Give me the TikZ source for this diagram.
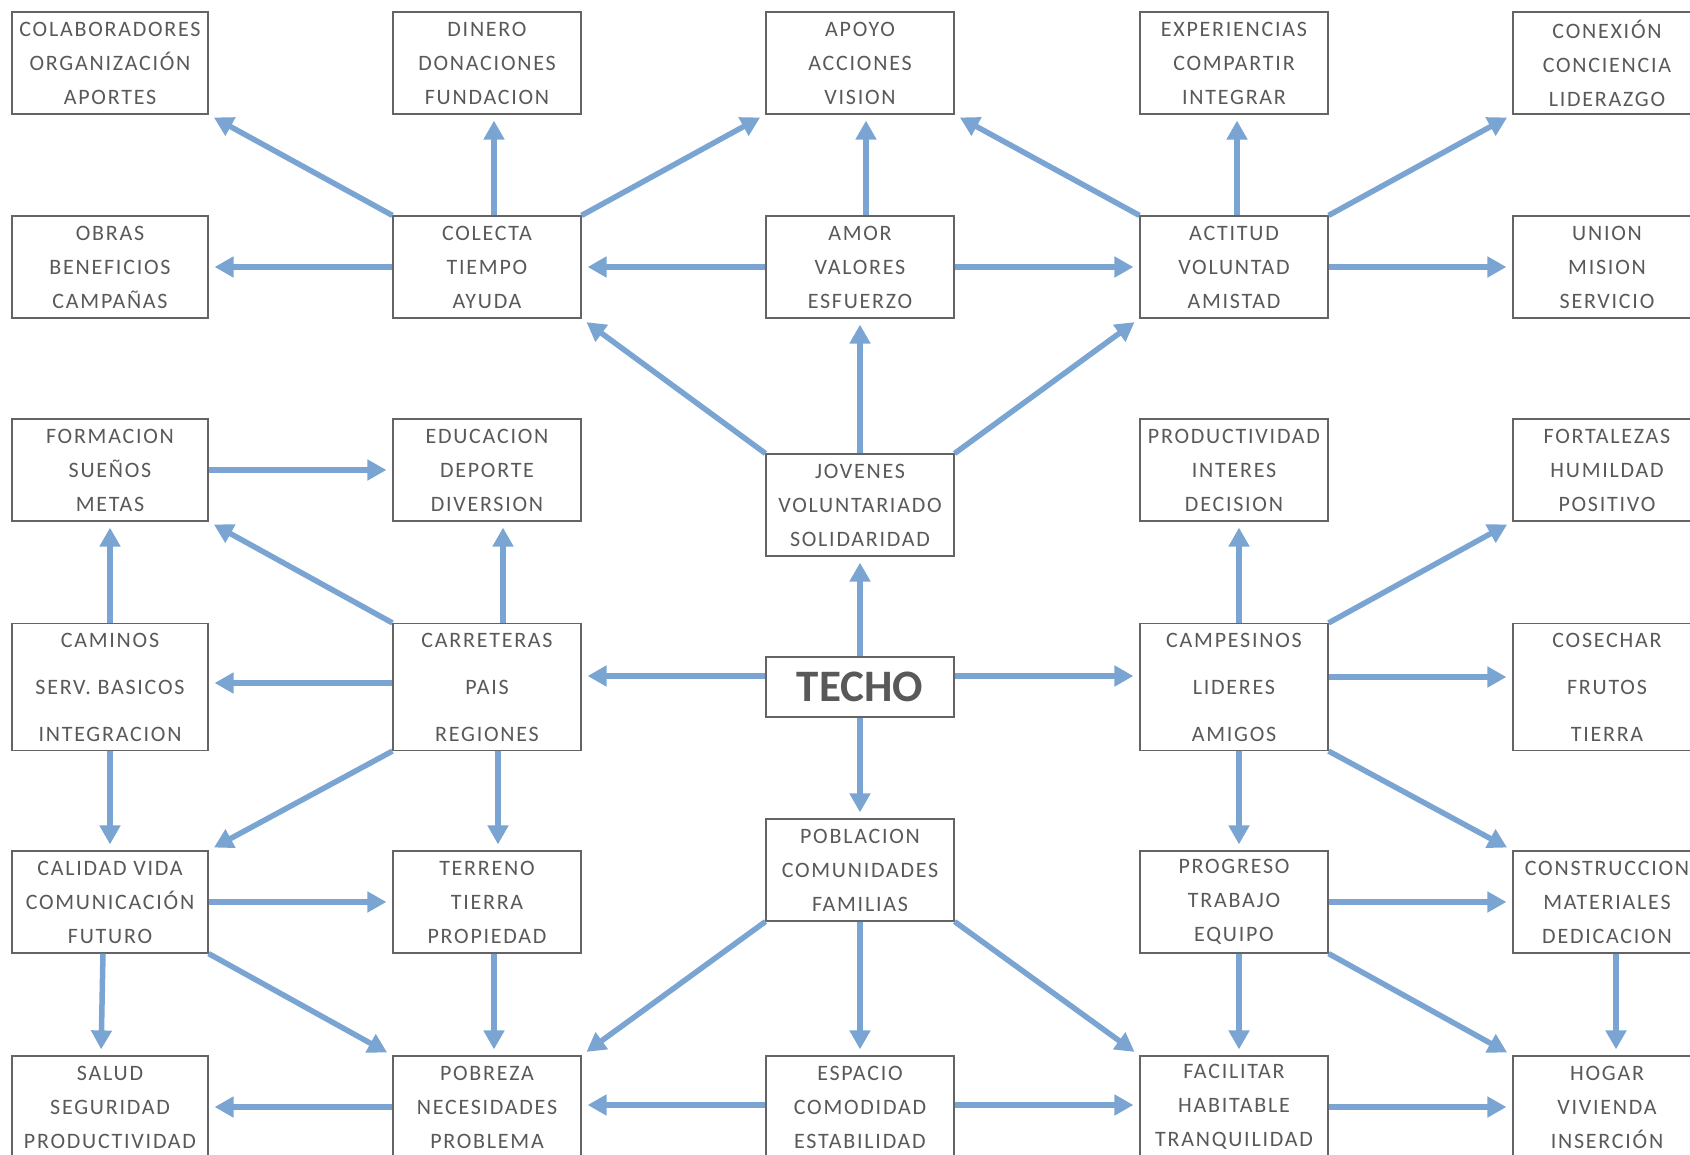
\documentclass[tikz,border=0pt]{standalone}
\usepackage{fontspec}
\usepackage{tikz}
\usetikzlibrary{arrows.meta}
\newfontfamily\boxfont[LetterSpace=8]{Carlito}
\newfontfamily\techofont{Carlito}
\definecolor{arrowblue}{RGB}{122,165,210}
\definecolor{textgray}{RGB}{89,89,89}
\definecolor{boxgray}{RGB}{100,100,100}

\begin{document}
\begin{tikzpicture}[x=1pt, y=-1pt]
\tikzstyle{box}=[draw=boxgray, line width=1.2pt, shape=rectangle, minimum height=102pt, minimum width=188pt, inner sep=0pt, align=center, text=textgray, font=\boxfont\fontsize{22pt}{34pt}\selectfont]
\tikzstyle{wide}=[box, minimum width=196pt]
\tikzstyle{tall}=[box, minimum height=127pt, font=\boxfont\fontsize{22pt}{47pt}\selectfont]
\tikzstyle{link}=[draw=arrowblue, line width=5.5pt, -{Triangle[length=19pt,width=20pt]}, shorten >=6pt]
\clip (0,0) rectangle (1690,1155);
\fill[white] (0,0) rectangle (1690,1155);
% fila 1
\node[wide] (0) at (110,63) {COLABORADORES\\ORGANIZACIÓN\\APORTES};
\node[box] (1) at (487,63) {DINERO\\DONACIONES\\FUNDACION};
\node[box] (2) at (860,63) {APOYO\\ACCIONES\\VISION};
\node[box] (3) at (1234,63) {EXPERIENCIAS\\COMPARTIR\\INTEGRAR};
\node[box] (4) at (1607,63) {CONEXIÓN\\CONCIENCIA\\LIDERAZGO};
% fila 2
\node[wide] (5) at (110,267) {OBRAS\\BENEFICIOS\\CAMPAÑAS};
\node[box] (6) at (487,267) {COLECTA\\TIEMPO\\AYUDA};
\node[box] (7) at (860,267) {AMOR\\VALORES\\ESFUERZO};
\node[box] (8) at (1234,267) {ACTITUD\\VOLUNTAD\\AMISTAD};
\node[box] (9) at (1607,267) {UNION\\MISION\\SERVICIO};
% fila 3
\node[wide] (10) at (110,470) {FORMACION\\SUEÑOS\\METAS};
\node[box] (11) at (487,470) {EDUCACION\\DEPORTE\\DIVERSION};
\node[box] (12) at (860,505) {JOVENES\\VOLUNTARIADO\\SOLIDARIDAD};
\node[box] (13) at (1234,470) {PRODUCTIVIDAD\\INTERES\\DECISION};
\node[box] (14) at (1607,470) {FORTALEZAS\\HUMILDAD\\POSITIVO};
% fila 4
\node[tall, minimum width=196pt] (15) at (110,687) {CAMINOS\\SERV. BASICOS\\INTEGRACION};
\node[tall] (16) at (487,687) {CARRETERAS\\PAIS\\REGIONES};
\node[box, minimum height=60pt, font=\techofont\fontsize{45pt}{45pt}\selectfont\bfseries] (17) at (860,687) {TECHO};
\node[tall] (18) at (1234,687) {CAMPESINOS\\LIDERES\\AMIGOS};
\node[tall] (19) at (1607,687) {COSECHAR\\FRUTOS\\TIERRA};
% fila 5
\node[wide] (20) at (110,902) {CALIDAD VIDA\\COMUNICACIÓN\\FUTURO};
\node[box] (21) at (487,902) {TERRENO\\TIERRA\\PROPIEDAD};
\node[box] (22) at (860,870) {POBLACION\\COMUNIDADES\\FAMILIAS};
\node[box] (23) at (1234,902) {PROGRESO\\TRABAJO\\EQUIPO};
\node[box] (24) at (1607,902) {CONSTRUCCION\\MATERIALES\\DEDICACION};
% fila 6
\node[wide] (25) at (110,1107) {SALUD\\SEGURIDAD\\PRODUCTIVIDAD};
\node[box] (26) at (487,1107) {POBREZA\\NECESIDADES\\PROBLEMA};
\node[box] (27) at (860,1107) {ESPACIO\\COMODIDAD\\ESTABILIDAD};
\node[box] (28) at (1234,1107) {FACILITAR\\HABITABLE\\TRANQUILIDAD};
\node[box] (29) at (1607,1107) {HOGAR\\VIVIENDA\\INSERCIÓN};

\draw[link] (6.north west) to (0.south east);
\draw[link] ([xshift=7pt]6.north) to ([xshift=7pt]1.south);
\draw[link] (6.north east) to (2.south west);
\draw[link] ([xshift=6pt]7.north) to ([xshift=6pt]2.south);
\draw[link] (8.north west) to (2.south east);
\draw[link] ([xshift=3pt]8.north) to ([xshift=3pt]3.south);
\draw[link] (8.north east) to (4.south west);
\draw[link] (6.west) to (5.east);
\draw[link] (7.west) to (6.east);
\draw[link] (7.east) to (8.west);
\draw[link] (8.east) to (9.west);
\draw[link] (12.north west) to (6.south east);
\draw[link] (12.north) to (7.south);
\draw[link] (12.north east) to (8.south west);

\draw[link] (10.east) to (11.west);
\draw[link] (16.north west) to (10.south east);
\draw[link] ([xshift=16pt]16.north) to ([xshift=16pt]11.south);
\draw[link] (15.north) to (10.south);
\draw[link] ([yshift=4pt]16.west) to ([yshift=4pt]15.east);
\draw[link] ([yshift=11pt]17.west) to ([yshift=11pt]16.east);
\draw[link] (17.north) to (12.south);
\draw[link] ([yshift=11pt]17.east) to ([yshift=11pt]18.west);
\draw[link] ([xshift=5pt]18.north) to ([xshift=5pt]13.south);
\draw[link] (18.north east) to (14.south west);
\draw[link] ([yshift=10pt]18.east) to ([yshift=10pt]19.west);

\draw[link] (15.south) to (20.north);
\draw[link] (16.south west) to (20.north east);
\draw[link] ([xshift=11pt]16.south) to ([xshift=11pt]21.north);
\draw[link] (17.south) to (22.north);
\draw[link] ([xshift=5pt]18.south) to ([xshift=5pt]23.north);
\draw[link] (18.south east) to (24.north west);

\draw[link] (20.east) to (21.west);
\draw[link] ([xshift=-7pt]20.south) to ([xshift=-9pt]25.north);
\draw[link] (20.south east) to (26.north west);
\draw[link] ([xshift=7pt]21.south) to ([xshift=7pt]26.north);
\draw[link] (22.south west) to (26.north east);
\draw[link] (22.south) to (27.north);
\draw[link] (22.south east) to (28.north west);
\draw[link] (23.east) to (24.west);
\draw[link] ([xshift=5pt]23.south) to ([xshift=5pt]28.north);
\draw[link] (23.south east) to (29.north west);
\draw[link] ([xshift=9pt]24.south) to ([xshift=9pt]29.north);
\draw[link] (26.west) to (25.east);
\draw[link] ([yshift=2pt]27.west) to ([yshift=2pt]26.east);
\draw[link] ([yshift=2pt]27.east) to ([yshift=2pt]28.west);
\draw[link] (28.east) to (29.west);
\end{tikzpicture}
\end{document}
